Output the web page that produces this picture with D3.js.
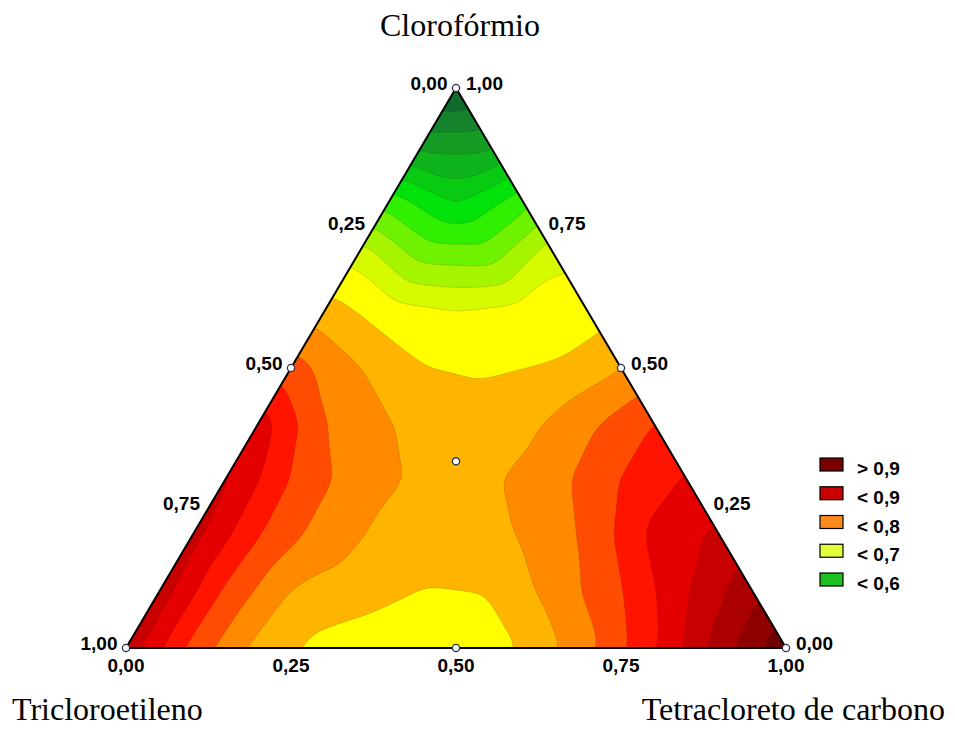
<!DOCTYPE html>
<html>
<head>
<meta charset="utf-8">
<script src="https://cdn.jsdelivr.net/npm/d3@7"></script>
<style>
  body { margin: 0; background: #ffffff; }
  svg { display: block; }
  .tick { font-family: "Liberation Sans", Arial, sans-serif; font-weight: bold; font-size: 19px; fill: #000; }
  .axis-title { font-family: "Liberation Serif", "Times New Roman", serif; font-size: 32px; fill: #000; }
</style>
</head>
<body>
<svg id="chart" width="955" height="730"></svg>
<script>
// Mixture components: a = Clorofórmio (top vertex),
// b = Tricloroetileno (bottom left), c = Tetracloreto de carbono (bottom right).
const componentNames = ["Clorofórmio", "Tricloroetileno", "Tetracloreto de carbono"];

// Response over the simplex lattice with step 0.1.
// Row i holds Clorofórmio = i/10; its entries run from Tetracloreto = 0
// (Tricloroetileno edge) to Tetracloreto = 1 - i/10 (right edge).
const row0  = [0.868, 0.792, 0.742, 0.716, 0.706, 0.707, 0.726, 0.767, 0.821, 0.886, 0.945];
const row1  = [0.865, 0.795, 0.748, 0.737, 0.724, 0.726, 0.760, 0.798, 0.848, 0.893];
const row2  = [0.860, 0.801, 0.763, 0.742, 0.735, 0.752, 0.780, 0.832, 0.856];
const row3  = [0.855, 0.798, 0.762, 0.745, 0.746, 0.767, 0.801, 0.828];
const row4  = [0.840, 0.776, 0.751, 0.735, 0.742, 0.770, 0.801];
const row5  = [0.787, 0.752, 0.726, 0.722, 0.727, 0.749];
const row6  = [0.738, 0.712, 0.703, 0.710, 0.712];
const row7  = [0.692, 0.641, 0.638, 0.694];
const row8  = [0.612, 0.571, 0.612];
const row9  = [0.515, 0.515];
const row10 = [0.446];
const responseRows = [row0, row1, row2, row3, row4, row5, row6, row7, row8, row9, row10];

// Simplex-centroid design points [a, b, c]
const designPoints = [
  [1, 0, 0], [0, 1, 0], [0, 0, 1],
  [0.5, 0.5, 0], [0.5, 0, 0.5], [0, 0.5, 0.5],
  [1 / 3, 1 / 3, 1 / 3]
];

const tickValues = [0, 0.25, 0.5, 0.75, 1];

// Contour levels and the fill of each band (band 0 lies below the first level)
const levels = [0.475, 0.5, 0.525, 0.55, 0.575, 0.6, 0.625, 0.65, 0.675, 0.7,
                0.725, 0.75, 0.775, 0.8, 0.825, 0.85, 0.875, 0.9, 0.925];
const bandColors = ["#0f6a2d", "#15822c", "#139b24", "#0fb31b", "#08ca12", "#00e20a",
                    "#2ef000", "#6ef200", "#a6f500", "#d6fa00", "#ffff00", "#ffb400",
                    "#ff8a00", "#ff4c00", "#ff1400", "#e40000", "#c80000", "#ab0000",
                    "#8e0000", "#700000"];

const legendLabels = ["> 0,9", "< 0,9", "< 0,8", "< 0,7", "< 0,6"];
const legendColors = ["#7a0000", "#c80000", "#ff8a1c", "#e2ff3a", "#1fbf1f"];

// ---- geometry ----
const svg = d3.select("#chart");
const N = responseRows.length - 1;

const xScale = d3.scaleLinear().domain([0, 1]).range([126, 786]); // along the base
const yScale = d3.scaleLinear().domain([0, 1]).range([648, 88]);  // Clorofórmio height

function toXY(a, c) { return [xScale(c + a / 2), yScale(a)]; }
function fromXY(x, y) { const a = yScale.invert(y); return [a, xScale.invert(x) - a / 2]; }

const vertices = [toXY(1, 0), toXY(0, 0), toXY(0, 1)];

// Piecewise-linear surface on the lattice triangles
function R(i, k) { return responseRows[i][k]; }
function surface(a, c) {
  a = Math.max(0, a); c = Math.max(0, c);
  const s = a + c;
  if (s > 1) { a /= s; c /= s; }
  const fa = a * N, fc = c * N;
  let i = Math.min(Math.floor(fa), N);
  let k = Math.min(Math.floor(fc), N - i);
  if (i + k >= N) { if (k > 0) k -= 1; else i -= 1; }
  const u = Math.min(1, Math.max(0, fa - i));
  const w = Math.min(1, Math.max(0, fc - k));
  if (u + w <= 1 || i + k + 2 > N) {
    return R(i, k) * (1 - u - w) + R(i + 1, k) * u + R(i, k + 1) * w;
  }
  return R(i + 1, k) * (1 - w) + R(i, k + 1) * (1 - u) + R(i + 1, k + 1) * (u + w - 1);
}

// Sample the surface on a fine raster covering the triangle
const step = 1.5;
const pad = 30;
const x0 = 126 - pad, y0 = 88 - pad;
const nx = Math.ceil((660 + 2 * pad) / step) + 1;
const ny = Math.ceil((560 + 2 * pad) / step) + 1;
const grid = new Float64Array(nx * ny);
for (let gy = 0; gy < ny; gy++) {
  for (let gx = 0; gx < nx; gx++) {
    const [a, c] = fromXY(x0 + gx * step, y0 + gy * step);
    grid[gy * nx + gx] = surface(a, c);
  }
}

// Separable box blur (three passes) to round off the lattice creases
function boxPass(src, dst, n, stride, count, offsetStride, r) {
  for (let line = 0; line < count; line++) {
    const base = line * offsetStride;
    let sum = 0;
    for (let t = -r; t <= r; t++) sum += src[base + Math.min(n - 1, Math.max(0, t)) * stride];
    for (let t = 0; t < n; t++) {
      dst[base + t * stride] = sum / (2 * r + 1);
      const out = Math.max(0, t - r), inn = Math.min(n - 1, t + r + 1);
      sum += src[base + inn * stride] - src[base + out * stride];
    }
  }
}
function smooth(values, w, h, r) {
  const tmp = new Float64Array(values.length);
  for (let p = 0; p < 3; p++) {
    boxPass(values, tmp, w, 1, h, w, r);   // rows
    boxPass(tmp, values, h, w, w, 1, r);   // columns
  }
}
smooth(grid, nx, ny, 5);

const bands = d3.contours().size([nx, ny]).thresholds(levels)(grid);
const rasterToPage = d3.geoTransform({
  point(x, y) { this.stream.point(x0 + (x - 0.5) * step, y0 + (y - 0.5) * step); }
});
const bandPath = d3.geoPath(rasterToPage);

const triPath = "M" + vertices.map(p => p.join(",")).join("L") + "Z";

svg.append("defs").append("clipPath").attr("id", "tri-clip")
  .append("path").attr("d", triPath);

const plot = svg.append("g").attr("clip-path", "url(#tri-clip)");
plot.append("path").attr("d", triPath).attr("fill", bandColors[0]);
plot.selectAll("path.band")
  .data(bands)
  .join("path")
  .attr("class", "band")
  .attr("d", bandPath)
  .attr("fill", (d, j) => bandColors[j + 1])
  .attr("stroke", "rgba(70,30,0,0.28)")
  .attr("stroke-width", 0.6)
  .attr("stroke-linejoin", "round");

// Triangle frame
svg.append("path").attr("d", triPath)
  .attr("fill", "none").attr("stroke", "#000").attr("stroke-width", 2);

// Design points
svg.selectAll("circle.design")
  .data(designPoints)
  .join("circle")
  .attr("class", "design")
  .attr("cx", d => toXY(d[0], d[2])[0])
  .attr("cy", d => toXY(d[0], d[2])[1])
  .attr("r", 3.6)
  .attr("fill", "#fff")
  .attr("stroke", "#2b3550")
  .attr("stroke-width", 1.3);

// Tick labels with decimal comma
const fmt = d3.formatLocale({ decimal: ",", thousands: ".", grouping: [3], currency: ["", ""] }).format(".2f");

// Left edge: Tricloroetileno fraction
svg.selectAll("text.tick-left")
  .data(tickValues)
  .join("text")
  .attr("class", "tick tick-left")
  .attr("x", v => toXY(1 - v, 0)[0] - 8.5)
  .attr("y", v => toXY(1 - v, 0)[1] + 2)
  .attr("text-anchor", "end")
  .text(v => fmt(v));

// Right edge: Clorofórmio fraction
svg.selectAll("text.tick-right")
  .data(tickValues)
  .join("text")
  .attr("class", "tick tick-right")
  .attr("x", v => toXY(v, 1 - v)[0] + 10)
  .attr("y", v => toXY(v, 1 - v)[1] + 2)
  .attr("text-anchor", "start")
  .text(v => fmt(v));

// Base: Tetracloreto de carbono fraction
svg.selectAll("text.tick-bottom")
  .data(tickValues)
  .join("text")
  .attr("class", "tick tick-bottom")
  .attr("x", v => xScale(v))
  .attr("y", 672)
  .attr("text-anchor", "middle")
  .text(v => fmt(v));

// Component names
svg.append("text").attr("class", "axis-title")
  .attr("x", 460).attr("y", 36).attr("text-anchor", "middle").text(componentNames[0]);
svg.append("text").attr("class", "axis-title")
  .attr("x", 12).attr("y", 720).attr("text-anchor", "start").text(componentNames[1]);
svg.append("text").attr("class", "axis-title")
  .attr("x", 945).attr("y", 720).attr("text-anchor", "end").text(componentNames[2]);

// Legend
const legend = svg.append("g").attr("transform", "translate(820,458)");
const rows = legend.selectAll("g.entry")
  .data(legendLabels)
  .join("g")
  .attr("class", "entry")
  .attr("transform", (d, r) => `translate(0,${r * 28.75})`);
rows.append("rect")
  .attr("width", 23).attr("height", 13)
  .attr("fill", (d, r) => legendColors[r])
  .attr("stroke", "#000").attr("stroke-width", 1.2);
rows.append("text")
  .attr("class", "tick")
  .attr("x", 37).attr("y", 17)
  .text(d => d);
</script>
</body>
</html>
